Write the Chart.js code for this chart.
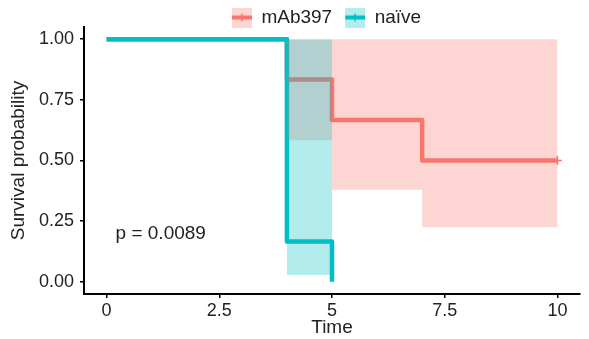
<!DOCTYPE html>
<html>
<head>
<meta charset="utf-8">
<script src="https://cdn.jsdelivr.net/npm/chart.js@4"></script>
<style>
  html, body { margin: 0; padding: 0; background: #fff; }
  #wrap { width: 589px; height: 339px; }
</style>
</head>
<body>
<div id="wrap"><canvas id="survChart"></canvas></div>
<script>
// Kaplan-Meier curves, survival after each event time
const groups = ['mAb397', 'naïve']
const lineColors = ['#F8766D', '#00BFC4']
const bandColors = ['rgba(248,118,109,0.3)', 'rgba(0,191,196,0.3)']

const mabTimes = [0, 4, 5, 7, 10]
const mabSurv = [1, 0.8333, 0.6667, 0.5, 0.5]
const naiveTimes = [0, 4, 5]
const naiveSurv = [1, 0.1667, 0]

// 95% confidence limits (log)
const mabBandTimes = [4, 5, 7, 10]
const mabUpper = [1, 1, 1, 1]
const mabLower = [0.583, 0.379, 0.225, 0.225]
const naiveBandTimes = [4, 5]
const naiveUpper = [0.998, 0.998]
const naiveLower = [0.028, 0.028]

// censored observations
const mabCensorTimes = [10]
const mabCensorSurv = [0.5]

const timeTicks = [0, 2.5, 5, 7.5, 10]
const survTicks = [0, 0.25, 0.5, 0.75, 1]

const pvalText = 'p = 0.0089'
const pvalX = 0.2
const pvalY = 0.2

const textColor = '#222'
Chart.defaults.font.family = '"Liberation Sans", Arial, Helvetica, sans-serif'

function pts(xs, ys) {
  return xs.map((t, i) => ({ x: t, y: ys[i] }))
}

function stepLine(data, color) {
  return {
    data: data,
    borderColor: color,
    borderWidth: 4.5,
    borderJoinStyle: 'round',
    stepped: 'before',
    pointRadius: 0,
    fill: false
  }
}

function bandEdge(data, color, fillTo) {
  return {
    data: data,
    borderWidth: 0,
    borderColor: 'rgba(0,0,0,0)',
    backgroundColor: color,
    stepped: 'before',
    pointRadius: 0,
    fill: fillTo
  }
}

// little legend key: ribbon square with the line and a censor tick across it
function legendIcon(i) {
  const c = document.createElement('canvas')
  c.width = 31
  c.height = 20
  const g = c.getContext('2d')
  g.fillStyle = bandColors[i]
  g.fillRect(11, 0, 20, 20)
  g.strokeStyle = lineColors[i]
  g.lineWidth = 4
  g.beginPath()
  g.moveTo(11, 10)
  g.lineTo(31, 10)
  g.stroke()
  g.lineWidth = 1.5
  g.beginPath()
  g.moveTo(21, 6)
  g.lineTo(21, 14)
  g.stroke()
  return c
}

const legendShift = {
  id: 'legendShift',
  afterLayout(chart) {
    const lg = chart.legend
    lg.left += 31
    lg.right += 31
    lg.top += 6
    lg.bottom += 6
  }
}

const pvalLabel = {
  id: 'pvalLabel',
  afterDatasetsDraw(chart) {
    const { ctx, scales } = chart
    ctx.save()
    ctx.font = '19px "Liberation Sans", Arial, sans-serif'
    ctx.fillStyle = textColor
    ctx.textAlign = 'left'
    ctx.textBaseline = 'middle'
    ctx.fillText(pvalText, scales.x.getPixelForValue(pvalX), scales.y.getPixelForValue(pvalY))
    ctx.restore()
  }
}

const axisLine = { display: true, color: '#000', width: 2 }
const tickMarks = { display: true, drawOnChartArea: false, drawTicks: true, tickLength: 4, color: '#000', lineWidth: 1.5 }

new Chart(document.getElementById('survChart'), {
  type: 'line',
  data: {
    datasets: [
      // index 0 is painted last
      bandEdge(pts(naiveBandTimes, naiveUpper), bandColors[1], '+1'),
      bandEdge(pts(naiveBandTimes, naiveLower), bandColors[1], false),
      bandEdge(pts(mabBandTimes, mabUpper), bandColors[0], '+1'),
      bandEdge(pts(mabBandTimes, mabLower), bandColors[0], false),
      stepLine(pts(naiveTimes, naiveSurv), lineColors[1]),
      {
        type: 'scatter',
        data: pts(mabCensorTimes, mabCensorSurv),
        pointStyle: 'cross',
        pointRadius: 4.5,
        borderColor: lineColors[0],
        borderWidth: 1.5
      },
      stepLine(pts(mabTimes, mabSurv), lineColors[0])
    ]
  },
  options: {
    responsive: true,
    maintainAspectRatio: false,
    animation: false,
    devicePixelRatio: 1,
    layout: { padding: { top: 0, right: 9, bottom: 0, left: 0 } },
    plugins: {
      tooltip: { enabled: false },
      legend: {
        position: 'top',
        align: 'center',
        maxHeight: 27,
        labels: {
          usePointStyle: true,
          pointStyleWidth: 31,
          padding: 2,
          color: textColor,
          font: { size: 19 },
          generateLabels: () => groups.map((g, i) => ({
            text: g,
            pointStyle: legendIcon(i),
            fillStyle: bandColors[i],
            strokeStyle: lineColors[i],
            lineWidth: 0,
            fontColor: textColor,
            hidden: false
          }))
        }
      }
    },
    scales: {
      x: {
        type: 'linear',
        min: -0.5,
        max: 10.5,
        afterBuildTicks: ax => { ax.ticks = timeTicks.map(v => ({ value: v })) },
        afterFit: ax => { ax.height = 45 },
        grid: tickMarks,
        border: axisLine,
        ticks: { color: textColor, font: { size: 18 }, padding: 2, callback: v => String(v) },
        title: { display: true, text: 'Time', color: textColor, font: { size: 19 }, padding: 0 }
      },
      y: {
        type: 'linear',
        min: -0.05,
        max: 1.05,
        afterBuildTicks: ax => { ax.ticks = survTicks.map(v => ({ value: v })) },
        afterFit: ax => { ax.width = 84 },
        grid: tickMarks,
        border: axisLine,
        ticks: { color: textColor, font: { size: 18 }, padding: 6, callback: v => v.toFixed(2) },
        title: { display: true, text: 'Survival probability', color: textColor, font: { size: 19 }, padding: 7 }
      }
    }
  },
  plugins: [legendShift, pvalLabel]
})
</script>
</body>
</html>
